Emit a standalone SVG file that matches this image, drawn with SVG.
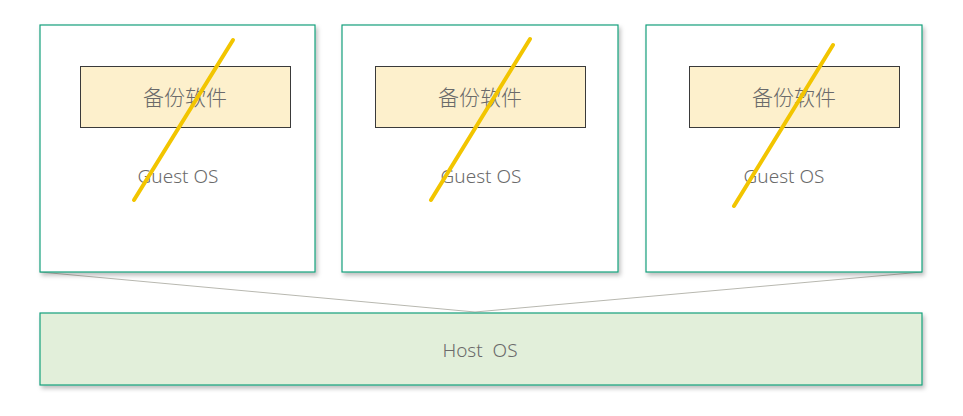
<svg xmlns="http://www.w3.org/2000/svg" width="963" height="416" viewBox="0 0 963 416">
<defs>
<filter id="sh" x="-5%" y="-5%" width="112%" height="115%">
<feDropShadow dx="2" dy="3" stdDeviation="2" flood-color="#000" flood-opacity="0.25"/>
</filter>
</defs>
<style>
.vm{fill:#fff;stroke:#14a07c;stroke-width:1.2;filter:url(#sh)}
.app{fill:#fdf0cc;stroke:#3a3a3a;stroke-width:1}
.host{fill:#e2efda;stroke:#14a07c;stroke-width:1.2;filter:url(#sh)}
.t{font-family:"Noto Sans","Noto Sans CJK SC",sans-serif;fill:#6a6a6a;text-anchor:middle;dominant-baseline:central}
.cn{font-size:21px;font-weight:300}
.os{font-size:19px;font-weight:300}
.x{stroke:#f2c500;stroke-width:4;stroke-linecap:round;fill:none}
.c{stroke:#b8b8b0;stroke-width:1;fill:none}
</style>
<rect width="963" height="416" fill="#fff"/>
<g id="connectors">
<path class="c" d="M40 272 L475 312"/>
<path class="c" d="M922 272 L475 312"/>
</g>
<g id="host">
<rect class="host" x="40" y="313" width="882" height="72"/>
<text class="t os" x="480" y="350" xml:space="preserve">Host  OS</text>
</g>
<g id="vm1">
<rect class="vm" x="40" y="25" width="275" height="247"/>
<rect class="app" x="80.5" y="66.5" width="210" height="61"/>
<text class="t cn" x="185" y="97">备份软件</text>
<text class="t os" x="178" y="176">Guest OS</text>
<path class="x" d="M233 40 L134 200"/>
</g>
<g id="vm2">
<rect class="vm" x="342" y="25" width="276" height="247"/>
<rect class="app" x="375.5" y="66.5" width="210" height="61"/>
<text class="t cn" x="480" y="97">备份软件</text>
<text class="t os" x="481" y="176">Guest OS</text>
<path class="x" d="M530 39 L431 200"/>
</g>
<g id="vm3">
<rect class="vm" x="646" y="25" width="276" height="247"/>
<rect class="app" x="689.5" y="66.5" width="210" height="61"/>
<text class="t cn" x="794" y="97">备份软件</text>
<text class="t os" x="784" y="176">Guest OS</text>
<path class="x" d="M833 45 L734 206"/>
</g>
</svg>
